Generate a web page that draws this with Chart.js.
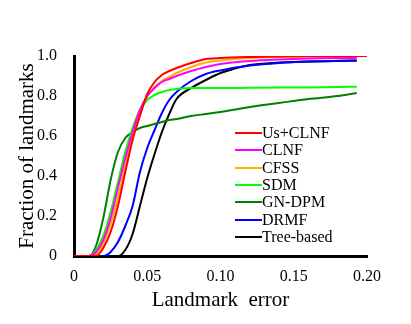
<!DOCTYPE html>
<html>
<head>
<meta charset="utf-8">
<script src="https://cdn.jsdelivr.net/npm/chart.js@4/dist/chart.umd.min.js"></script>
<style>
  html, body { margin: 0; padding: 0; background: #fff; }
  #wrap { position: relative; width: 411px; height: 324px; }
  #legend { position: absolute; left: 0; top: 0; font-family: "Liberation Serif", serif; font-size: 16px; color: #000; }
  #legend .row { position: absolute; white-space: nowrap; height: 18px; line-height: 18px; }
  #legend .ln { position: absolute; width: 27px; height: 2px; }
</style>
</head>
<body>
<div id="wrap">
  <canvas id="chart" width="411" height="324"></canvas>
  <div id="legend"></div>
</div>
<script>
const errors = [0, 0.01, 0.015, 0.02, 0.025, 0.03, 0.035, 0.04, 0.045, 0.05, 0.055, 0.06, 0.065, 0.07, 0.08, 0.09, 0.10, 0.12, 0.14, 0.16, 0.18, 0.193, 0.2];

const usClnf   = [0, 0, 0, 0.04, 0.12, 0.25, 0.42, 0.58, 0.70, 0.81, 0.87, 0.905, 0.925, 0.94, 0.965, 0.985, 0.99, 0.995, 0.998, 1.0, 1.0, 1.0, 1.0];
const clnf     = [0, 0, 0.02, 0.08, 0.19, 0.34, 0.49, 0.62, 0.73, 0.80, 0.84, 0.87, 0.885, 0.90, 0.925, 0.945, 0.96, 0.975, 0.983, 0.988, 0.99, 0.99, null];
const cfss     = [0, 0, 0.01, 0.06, 0.16, 0.29, 0.45, 0.60, 0.72, 0.80, 0.845, 0.875, 0.895, 0.915, 0.945, 0.967, 0.978, 0.99, 0.995, 0.997, 0.998, 0.998, null];
const sdm      = [0, 0, 0.03, 0.10, 0.22, 0.37, 0.52, 0.64, 0.73, 0.78, 0.805, 0.82, 0.83, 0.835, 0.84, 0.84, 0.84, 0.841, 0.842, 0.843, 0.845, 0.846, null];
const gnDpm    = [0, 0, 0.05, 0.19, 0.38, 0.52, 0.59, 0.62, 0.64, 0.65, 0.66, 0.67, 0.68, 0.685, 0.70, 0.71, 0.72, 0.745, 0.765, 0.785, 0.80, 0.815, null];
const drmf     = [0, 0, 0, 0, 0.02, 0.07, 0.15, 0.25, 0.42, 0.54, 0.63, 0.715, 0.78, 0.82, 0.875, 0.91, 0.928, 0.952, 0.965, 0.972, 0.976, 0.978, null];
const treeBased = [0, 0, 0, 0, 0, 0, 0.03, 0.11, 0.25, 0.39, 0.51, 0.62, 0.71, 0.785, 0.84, 0.88, 0.915, 0.955, 0.967, 0.972, 0.975, 0.976, null];

const names = ['Us+CLNF', 'CLNF', 'CFSS', 'SDM', 'GN-DPM', 'DRMF', 'Tree-based'];
const colors = ['#ff0000', '#ff00ff', '#ffb000', '#00ff00', '#008000', '#0000ff', '#000000'];
const series = [usClnf, clnf, cfss, sdm, gnDpm, drmf, treeBased];

const yTicks = [0, 0.2, 0.4, 0.6, 0.8, 1.0];
const xTicks = [0, 0.05, 0.10, 0.15, 0.20];

const datasets = series.map((vals, i) => ({
  label: names[i],
  data: errors.map((x, j) => ({ x: x, y: vals[j] })),
  borderColor: colors[i],
  borderWidth: 2,
  pointRadius: 0,
  fill: false,
  cubicInterpolationMode: 'monotone',
  spanGaps: false
}));

const serif = 'Liberation Serif';

new Chart(document.getElementById('chart'), {
  type: 'line',
  data: { datasets: datasets },
  options: {
    responsive: false,
    animation: false,
    layout: { padding: { left: 0, top: 56, right: 44, bottom: 0 } },
    plugins: { legend: { display: false }, tooltip: { enabled: false } },
    scales: {
      x: {
        type: 'linear',
        min: 0,
        max: 0.2,
        afterFit: s => { s.height = 68; },
        afterBuildTicks: s => { s.ticks = xTicks.map(v => ({ value: v })); },
        border: { display: true, color: '#000', width: 3 },
        grid: { display: false },
        ticks: {
          color: '#000',
          font: { family: serif, size: 16 },
          padding: 3,
          maxRotation: 0,
          callback: v => v === 0 ? '0' : v.toFixed(2)
        },
        title: {
          display: true,
          text: 'Landmark  error',
          color: '#000',
          font: { family: serif, size: 21 },
          padding: { top: 0, bottom: 11 }
        }
      },
      y: {
        min: 0,
        max: 1,
        afterFit: s => { s.width = 74; },
        afterBuildTicks: s => { s.ticks = yTicks.map(v => ({ value: v })); },
        border: { display: true, color: '#000', width: 3 },
        grid: { display: false },
        ticks: {
          color: '#000',
          font: { family: serif, size: 16 },
          padding: 9,
          callback: v => v === 0 ? '0' : v.toFixed(1)
        },
        title: {
          display: true,
          text: 'Fraction of landmarks',
          color: '#000',
          font: { family: serif, size: 21 },
          padding: { top: 15, bottom: 0 }
        }
      }
    }
  }
});

// legend sits inside the plot, lower right
const legend = document.getElementById('legend');
names.forEach((n, i) => {
  const cy = Math.round(133 + i * 17.33);
  const ln = document.createElement('div');
  ln.className = 'ln';
  ln.style.left = '235px';
  ln.style.top = (cy - 1) + 'px';
  ln.style.background = colors[i];
  legend.appendChild(ln);
  const row = document.createElement('div');
  row.className = 'row';
  row.style.left = '262px';
  row.style.top = (cy - 9) + 'px';
  row.textContent = n;
  legend.appendChild(row);
});
</script>
</body>
</html>
